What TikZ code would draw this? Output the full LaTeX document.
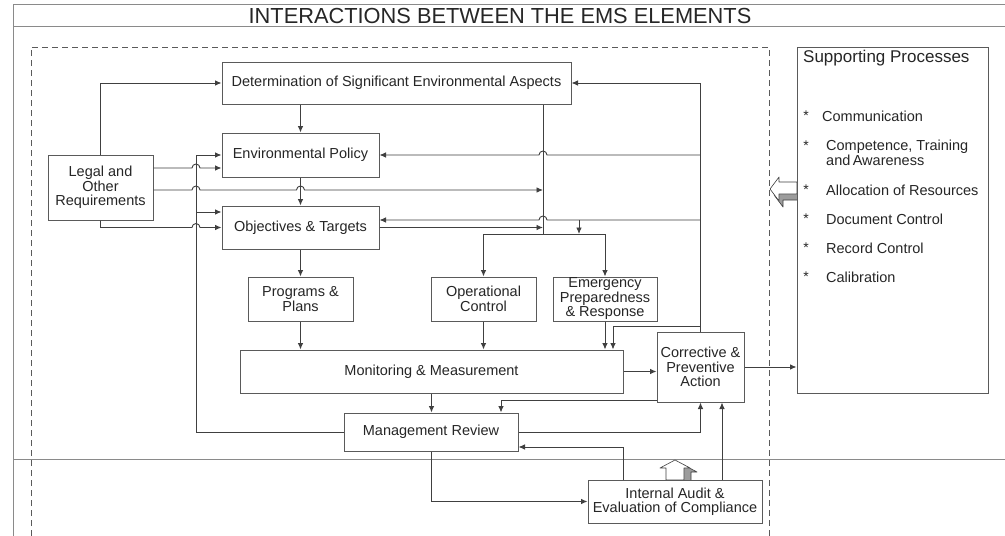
\documentclass[tikz,border=0pt]{standalone}
\usepackage{fontspec}
\setmainfont{Liberation Sans}
\usetikzlibrary{arrows.meta,positioning,calc}
\definecolor{emsline}{HTML}{404040}
\definecolor{emsbox}{HTML}{5A5A5A}
\definecolor{emsframe}{HTML}{8A8A8A}
\definecolor{emsshade}{HTML}{9C9C9C}
\newcommand{\hopr}{arc[start angle=180,end angle=360,radius=4]}
\newcommand{\hopl}{arc[start angle=0,end angle=-180,radius=4]}

\begin{document}
\begin{tikzpicture}[
x=1pt, y=-1pt,
box/.style={rectangle, draw=emsbox, fill=white, line width=1pt, inner sep=0pt, align=center, text=black!85, font=\fontsize{14.5}{14.5}\selectfont},
arrow/.style={-{Latex[length=6.5pt,width=5.5pt]}, emsline, line width=0.9pt},
link/.style={emsline, line width=0.9pt},
item/.style={anchor=west, inner sep=0pt, align=left, text=black!85, font=\fontsize{14.5}{14.5}\selectfont},
star/.style={inner sep=0pt, text=black!85, font=\fontsize{14}{14}\selectfont},
block3d/.style={draw=emsline, line width=0.6pt, line join=round}
]
\useasboundingbox (0,0) rectangle (1005,536);
\fill[white] (0,0) rectangle (1005,536);

% slide frame and title
\draw[emsframe, line width=0.9pt] (13,536) -- (13,4) -- (1005,4);
\draw[emsframe, line width=0.9pt] (13,26) -- (1005,26);
\draw[emsframe, line width=0.9pt] (13,459) -- (1005,459);
\node (title) [text=black!85, font=\fontsize{21.8}{21.8}\selectfont] at (500,16) {INTERACTIONS BETWEEN THE EMS ELEMENTS};

% EMS boundary
\draw[emsbox, line width=0.9pt, dash pattern=on 6pt off 4pt] (31,536) -- (31,47) -- (769,47) -- (769,536);

% 3d block arrows
\fill[emsshade, block3d] (774,195) -- (783,183) -- (783,188) -- (801,188) -- (801,200) -- (783,200) -- (783,207) -- cycle;
\fill[white, block3d] (770,189) -- (779,177) -- (779,182) -- (797,182) -- (797,194) -- (779,194) -- (779,201) -- cycle;
\fill[emsshade, block3d] (682,464) -- (697,472) -- (691,472) -- (691,484) -- (673,484) -- (673,472) -- (667,472) -- cycle;
\fill[white, block3d] (675,460) -- (690,468) -- (684,468) -- (684,480) -- (666,480) -- (666,468) -- (660,468) -- cycle;

% supporting processes
\node (supp) [box, minimum width=191pt, minimum height=346pt] at (892.5,220) {};
\node (supptitle) [item, font=\fontsize{17}{17}\selectfont] at (803,58) {Supporting Processes};
\node (s1) [star] at (806,116) {*};
\node (comm) [item] at (822,116) {Communication};
\node (s2) [star] at (806,146) {*};
\node (comp) [item] at (826,153) {Competence, Training\\and\,Awareness};
\foreach \y/\t in {190/Allocation of Resources, 219/Document Control, 248/Record Control, 277/Calibration}{
  \node (st\y) [star] at (806,\y) {*};
  \node (it\y) [item] at (826,\y) {\t};
}

% EMS elements
\node (det) [box, minimum width=349pt, minimum height=42pt] at (396.5,83) {Determination of Significant Environmental Aspects};
\node (pol) [box, minimum width=157pt, minimum height=44pt] at (300.5,155) {Environmental Policy};
\node (obj) [box, minimum width=157pt, minimum height=43pt] at (300.5,227.5) {Objectives \& Targets};
\node (legal) [box, minimum width=105pt, minimum height=65pt] at (100.5,187.5) {Legal and\\Other\\Requirements};
\node (prog) [box, minimum width=105pt, minimum height=44pt] at (300.5,299) {Programs \&\\Plans};
\node (oper) [box, minimum width=105pt, minimum height=44pt] at (483.5,299) {Operational\\Control};
\node (emer) [box, minimum width=104pt, minimum height=44pt] at (605,299) {Emergency\\Preparedness\\\& Response};
\node (mon) [box, minimum width=383pt, minimum height=43pt] at (431.5,371.5) {Monitoring \& Measurement};
\node (corr) [box, minimum width=87pt, minimum height=70pt] at (700.5,367) {Corrective \&\\Preventive\\Action};
\node (mgmt) [box, minimum width=174pt, minimum height=38pt] at (431,432) {Management Review};
\node (audit) [box, minimum width=174pt, minimum height=43pt] at (675,501.5) {Internal Audit \&\\Evaluation of Compliance};

\coordinate (lbus) at (196,155);
\coordinate (split) at (543,234);

% legal and other requirements
\draw[arrow] (legal.north) |- (det.west);
\draw[arrow] (legal.east |- 0,168) -- (192,168) \hopr -- (pol.west |- 0,168);
\draw[arrow] (legal.east |- 0,190) -- (192,190) \hopr -- (296.5,190) \hopr -- (split |- 0,190);
\draw[arrow] (legal.south) |- (192,227.5) \hopr -- (obj.west);

% review back to policy and objectives
\draw[arrow] (mgmt.west) -| (lbus) -- (pol.west);
\draw[arrow] (lbus |- 0,212) -- (obj.west |- 0,212);

% main chain
\draw[arrow] (pol.north |- det.south) -- (pol.north);
\draw[arrow] (pol.south) -- (obj.north);
\draw[arrow] (obj.south) -- (prog.north);
\draw[arrow] (prog.south) -- (prog.south |- mon.north);

% aspects to operational control and emergency
\draw[link] (det.south -| split) -- (split);
\draw[link] (oper.north |- split) -- (emer.north |- split);
\draw[arrow] (oper.north |- split) -- (oper.north);
\draw[arrow] (emer.north |- split) -- (emer.north);
\draw[arrow] (obj.east) -- (obj.east -| split);
\draw[arrow] (oper.south) -- (oper.south |- mon.north);
\draw[arrow] (emer.south) -- (emer.south |- mon.north);

% corrective action feedback
\draw[arrow] (corr.north) |- (det.east);
\draw[arrow] (corr.north |- pol.east) -- (547,155) \hopl -- (pol.east);
\draw[arrow] (corr.north |- 0,220) -- (547,220) \hopl -- (obj.east |- 0,220);
\draw[arrow] (579,220) -- (split -| 579,0);
\draw[arrow] (corr.north |- 0,326) -| (mon.north -| 613,0);

% monitoring, review and audit
\draw[arrow] (mon.east) -- (mon.east -| corr.west);
\draw[arrow] (mon.south) -- (mon.south |- mgmt.north);
\draw[arrow] (corr.west |- 0,400) -| (mgmt.north -| 501,0);
\draw[arrow] (corr.east) -- (corr.east -| supp.west);
\draw[arrow] (mgmt.east) -| (corr.south);
\draw[arrow] (audit.north -| 623,0) |- (mgmt.east |- 0,447);
\draw[arrow] (mgmt.south) |- (audit.west);
\draw[arrow] (audit.north -| 722,0) -- (corr.south -| 722,0);
\end{tikzpicture}
\end{document}
